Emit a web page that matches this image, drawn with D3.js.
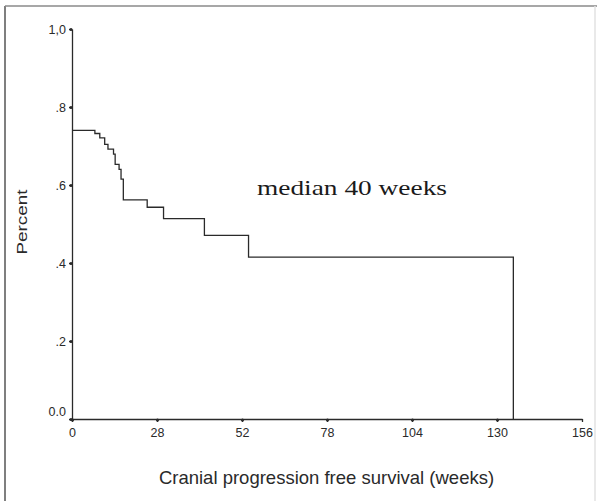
<!DOCTYPE html>
<html>
<head>
<meta charset="utf-8">
<script src="https://cdn.jsdelivr.net/npm/d3@7"></script>
<style>
  html, body { margin: 0; padding: 0; background: #fff; }
  svg { display: block; }
</style>
</head>
<body>
<script>
// Kaplan-Meier step data (weeks, survival proportion)
const times = [0, 7, 8.5, 10, 11, 12.7, 13.2, 14.4, 15, 15.7, 23, 28, 40.5, 54, 135];
const surv  = [0.74, 0.732, 0.721, 0.704, 0.692, 0.679, 0.653, 0.640, 0.615, 0.562, 0.543, 0.514, 0.471, 0.415, 0];

const xTicks = [0, 26, 52, 78, 104, 130, 156];
const xTickLabels = ["0", "28", "52", "78", "104", "130", "156"];
const yTicks = [0, 0.2, 0.4, 0.6, 0.8, 1.0];
const yTickLabels = ["0.0", ".2", ".4", ".6", ".8", "1,0"];

const xTitle = "Cranial progression free survival (weeks)";
const yTitle = "Percent";
const note = "median 40 weeks";

const W = 597, H = 501;
const svg = d3.select("body").append("svg").attr("width", W).attr("height", H);

// frame
svg.append("line").attr("x1", 5).attr("y1", 6).attr("x2", 5).attr("y2", H)
  .attr("stroke", "#555").attr("stroke-width", 1.5);
svg.append("line").attr("x1", 5).attr("y1", 6).attr("x2", W).attr("y2", 6)
  .attr("stroke", "#8a8a8a").attr("stroke-width", 1.5);
svg.append("line").attr("x1", 595).attr("y1", 6).attr("x2", 595).attr("y2", H)
  .attr("stroke", "#e2e2e2").attr("stroke-width", 1.5);

const x = d3.scaleLinear().domain([0, 156]).range([72, 582]);
const y = d3.scaleLinear().domain([0, 1]).range([419, 29]);

const ink = "#2a2a2a";

// axes
const yAxis = d3.axisLeft(y).tickValues(yTicks).tickSize(3).tickSizeOuter(0).tickPadding(3)
  .tickFormat((d, i) => yTickLabels[i]);
const gy = svg.append("g").attr("transform", `translate(${x(0)},0)`).call(yAxis);

const xAxis = d3.axisBottom(x).tickValues(xTicks).tickSize(3).tickSizeOuter(0).tickPadding(6)
  .tickFormat((d, i) => xTickLabels[i]);
const gx = svg.append("g").attr("transform", `translate(0,${y(0)})`).call(xAxis);

[gx, gy].forEach(g => {
  g.selectAll("path.domain").attr("stroke", ink).attr("stroke-width", 1.3);
  g.selectAll(".tick line").attr("stroke", ink).attr("stroke-width", 1.3);
  g.selectAll(".tick text").attr("fill", ink)
    .style("font-family", "'Liberation Sans', Arial, sans-serif").style("font-size", "12.5px");
});
gy.selectAll(".tick text").filter(d => d === 0).attr("dy", "-0.25em");

// tick dots
gy.selectAll(".tick").append("circle").attr("cx", -1).attr("cy", 0).attr("r", 1.6).attr("fill", ink);
gx.selectAll(".tick").filter(d => d !== 156).append("circle").attr("cx", 0).attr("cy", 1).attr("r", 1.6).attr("fill", ink);

// survival curve
const pts = times.map((t, i) => [t, surv[i]]);
const line = d3.line().x(d => x(d[0])).y(d => y(d[1])).curve(d3.curveStepAfter);
svg.append("path").datum(pts).attr("d", line)
  .attr("fill", "none").attr("stroke", ink).attr("stroke-width", 1.3);

// titles
svg.append("text").attr("x", 326.5).attr("y", 484).attr("text-anchor", "middle")
  .attr("fill", ink).style("font-family", "'Liberation Sans', Arial, sans-serif")
  .style("font-size", "18.5px").text(xTitle);

svg.append("text").attr("transform", "translate(26.5,222) rotate(-90)").attr("text-anchor", "middle")
  .attr("fill", ink).style("font-family", "'Liberation Sans', Arial, sans-serif")
  .style("font-size", "15.5px").attr("textLength", 65).attr("lengthAdjust", "spacingAndGlyphs")
  .text(yTitle);

svg.append("text").attr("x", 257).attr("y", 195)
  .attr("fill", "#1a1a1a").style("font-family", "'Liberation Serif', 'Times New Roman', serif")
  .style("font-size", "22px").attr("textLength", 190).attr("lengthAdjust", "spacingAndGlyphs")
  .text(note);
</script>
</body>
</html>
